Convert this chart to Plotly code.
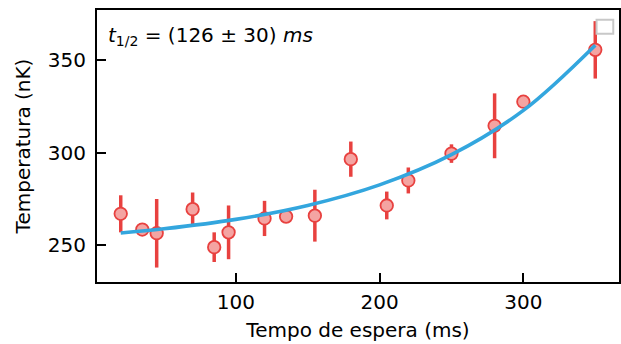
import plotly.graph_objects as go

# Data
wait_ms = [20, 35, 45, 70, 85, 95, 120, 135, 155, 180, 205, 220, 250, 280, 300, 350]
temp_nk = [267, 258.5, 256.5, 269.5, 249, 257, 264.5, 265.5, 266, 296.5, 271.5, 285, 299.5, 314.5, 327.5, 355.5]
temp_err = [10, 1.5, 18.5, 9, 8, 14.5, 9.5, 1.5, 14, 9.5, 7.5, 7, 5, 17.5, 1.5, 15.5]

# Fitted curve, read at several points from the reference
fit_x = [20, 50, 100, 150, 200, 250, 300, 350]
fit_y = [256.6, 258.9, 264.0, 271.5, 282.6, 298.9, 322.8, 358.0]

x_ticks = [100, 200, 300]
y_ticks = [250, 300, 350]

FONT = "DejaVu Sans"
FS = 20

fig = go.Figure()
fig.add_trace(go.Scatter(
    x=wait_ms, y=temp_nk, mode="markers",
    error_y=dict(type="data", array=temp_err, visible=True,
                 color="#e8413f", thickness=3.5, width=0),
    marker=dict(size=12.5, color="#f4a4a2", line=dict(color="#e8413f", width=1.8)),
    showlegend=False,
))
fig.add_trace(go.Scatter(
    x=fit_x, y=fit_y, mode="lines", line=dict(color="#33a6de", width=3.6, shape="spline"),
    showlegend=False,
))

fig.add_annotation(
    xref="paper", yref="paper", x=0.017, y=0.905, xanchor="left", yanchor="middle",
    text="<i>t</i><sub>1/2</sub> = (126 ± 30) <i>ms</i>", showarrow=False,
    font=dict(family=FONT, size=FS, color="black"),
)

# empty legend box (upper right)
fig.add_shape(type="rect", xref="paper", yref="paper",
              x0=0.957, x1=0.989, y0=0.913, y1=0.964,
              line=dict(color="#c8c8c8", width=2), fillcolor="rgba(255,255,255,0.8)")

axis_common = dict(
    showline=True, linecolor="black", linewidth=2, mirror=True,
    ticks="inside", ticklen=9, tickwidth=2, tickcolor="black",
    showgrid=False, zeroline=False,
    tickfont=dict(family=FONT, size=FS, color="black"),
)

fig.update_xaxes(range=[3.5, 366.5], tickvals=x_ticks,
                 title=dict(text="Tempo de espera (ms)", font=dict(family=FONT, size=FS, color="black"), standoff=10),
                 ticklabelstandoff=1, **axis_common)
fig.update_yaxes(range=[230.2, 377], tickvals=y_ticks,
                 title=dict(text="Temperatura (nK)", font=dict(family=FONT, size=FS, color="black"), standoff=12),
                 ticklabelstandoff=5, **axis_common)

fig.update_layout(
    width=621, height=344,
    margin=dict(l=97, r=2, t=10, b=62, autoexpand=False),
    plot_bgcolor="white", paper_bgcolor="white",
    font=dict(family=FONT, size=FS, color="black"),
)

fig.write_html("out.html")
